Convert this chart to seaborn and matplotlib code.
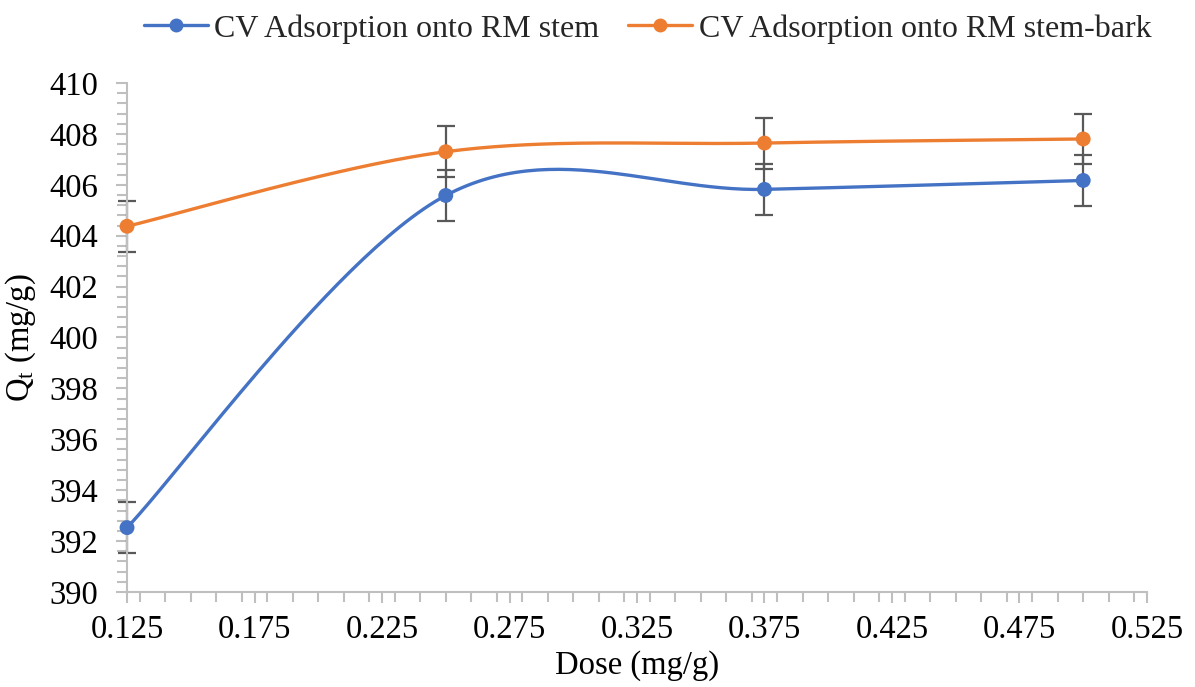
import numpy as np
import pandas as pd
import matplotlib
matplotlib.use("Agg")
import matplotlib.pyplot as plt
from matplotlib.lines import Line2D
from matplotlib.ticker import MultipleLocator, FixedLocator
import seaborn as sns

# ---- data ----
dose = [0.125, 0.25, 0.375, 0.5]
qt_stem = [392.53, 405.58, 405.82, 406.17]
qt_bark = [404.37, 407.30, 407.64, 407.80]
err_stem = [1.0, 1.0, 1.0, 1.0]
err_bark = [1.0, 1.0, 1.0, 1.0]
series_names = ["CV Adsorption onto RM stem", "CV Adsorption onto RM stem-bark"]
xticks = [0.125, 0.175, 0.225, 0.275, 0.325, 0.375, 0.425, 0.475, 0.525]
yticks = [390, 392, 394, 396, 398, 400, 402, 404, 406, 408, 410]

colors = ["#4472C4", "#ED7D31"]

sns.set_theme(style="white")
plt.rcParams["font.family"] = ["Liberation Serif", "DejaVu Serif"]
plt.rcParams["mathtext.fontset"] = "custom"
plt.rcParams["mathtext.rm"] = "Liberation Serif"
plt.rcParams["mathtext.it"] = "Liberation Serif:italic"

FS = 23.5

fig = plt.figure(figsize=(11.95, 6.87), dpi=100)
ax = fig.add_axes([0.1063, 0.1383, 0.8535, 0.7409])
ax.set_xlim(0.125, 0.525)
ax.set_ylim(390, 410)

# smoothing (Excel-like Bezier through points), done in display-normalised space
def smooth(xs, ys, n=60):
    x0, x1 = ax.get_xlim(); y0, y1 = ax.get_ylim()
    W, H = 1020.0, 509.0
    P = np.column_stack([(np.array(xs) - x0) / (x1 - x0) * W,
                         (np.array(ys) - y0) / (y1 - y0) * H])
    out = []
    m = len(P)
    for i in range(m - 1):
        pm = P[i - 1] if i > 0 else P[i]
        pp = P[i + 2] if i + 2 < m else P[i + 1]
        c1 = P[i] + (P[i + 1] - pm) / 6.0
        c2 = P[i + 1] - (pp - P[i]) / 6.0
        t = np.linspace(0, 1, n)[:, None]
        seg = ((1 - t) ** 3) * P[i] + 3 * ((1 - t) ** 2) * t * c1 + 3 * (1 - t) * t ** 2 * c2 + t ** 3 * P[i + 1]
        out.append(seg if i == 0 else seg[1:])
    S = np.vstack(out)
    return S[:, 0] / W * (x1 - x0) + x0, S[:, 1] / H * (y1 - y0) + y0

frames = []
for name, ys in zip(series_names, [qt_stem, qt_bark]):
    sx, sy = smooth(dose, ys)
    frames.append(pd.DataFrame({"x": sx, "y": sy, "series": name}))
curve = pd.concat(frames, ignore_index=True)

pts = pd.concat([
    pd.DataFrame({"x": dose, "y": qt_stem, "series": series_names[0]}),
    pd.DataFrame({"x": dose, "y": qt_bark, "series": series_names[1]}),
], ignore_index=True)

# error bars
for ys, es in zip([qt_stem, qt_bark], [err_stem, err_bark]):
    ax.errorbar(dose, ys, yerr=es, fmt="none", ecolor="#595959", elinewidth=1.6,
                capsize=6.5, capthick=1.6, zorder=2, clip_on=False)

sns.lineplot(data=curve, x="x", y="y", hue="series", palette=colors, sort=False,
             estimator=None, linewidth=2.4, ax=ax, legend=False, zorder=3)
sns.scatterplot(data=pts, x="x", y="y", hue="series", palette=colors, s=115,
                edgecolor="none", ax=ax, legend=False, zorder=4, clip_on=False)

# axes styling
ax.xaxis.set_major_locator(FixedLocator(xticks))
ax.xaxis.set_minor_locator(MultipleLocator(0.01))
ax.yaxis.set_major_locator(FixedLocator(yticks))
ax.yaxis.set_minor_locator(MultipleLocator(0.4))
ax.set_xticklabels([f"{v:.3f}" for v in xticks])
ax.set_yticklabels([str(v) for v in yticks])
for s in ["top", "right"]:
    ax.spines[s].set_visible(False)
for s in ["left", "bottom"]:
    ax.spines[s].set_color("#BFBFBF")
    ax.spines[s].set_linewidth(1.5)
ax.tick_params(axis="both", which="both", direction="out", color="#BFBFBF", width=1.5,
               labelsize=FS, labelcolor="black", bottom=True, left=True)
ax.tick_params(axis="both", which="major", length=8, pad=8)
ax.tick_params(axis="both", which="minor", length=7)
ax.tick_params(axis="y", which="major", pad=13)
ax.set_xlabel("Dose (mg/g)", fontsize=FS, color="black", labelpad=4)
ax.set_ylabel(r"Q$_\mathrm{t}$ (mg/g)", fontsize=FS, color="black", labelpad=8)
ax.grid(False)

handles = [Line2D([0], [0], color=c, lw=2.4, marker="o", markersize=9) for c in colors]
fig.legend(handles, series_names, loc="center", bbox_to_anchor=(0.542, 0.958), ncol=2,
           frameon=False, fontsize=23, handlelength=2.0, handletextpad=0.2,
           columnspacing=0.9)

fig.savefig("out.png", dpi=100)
